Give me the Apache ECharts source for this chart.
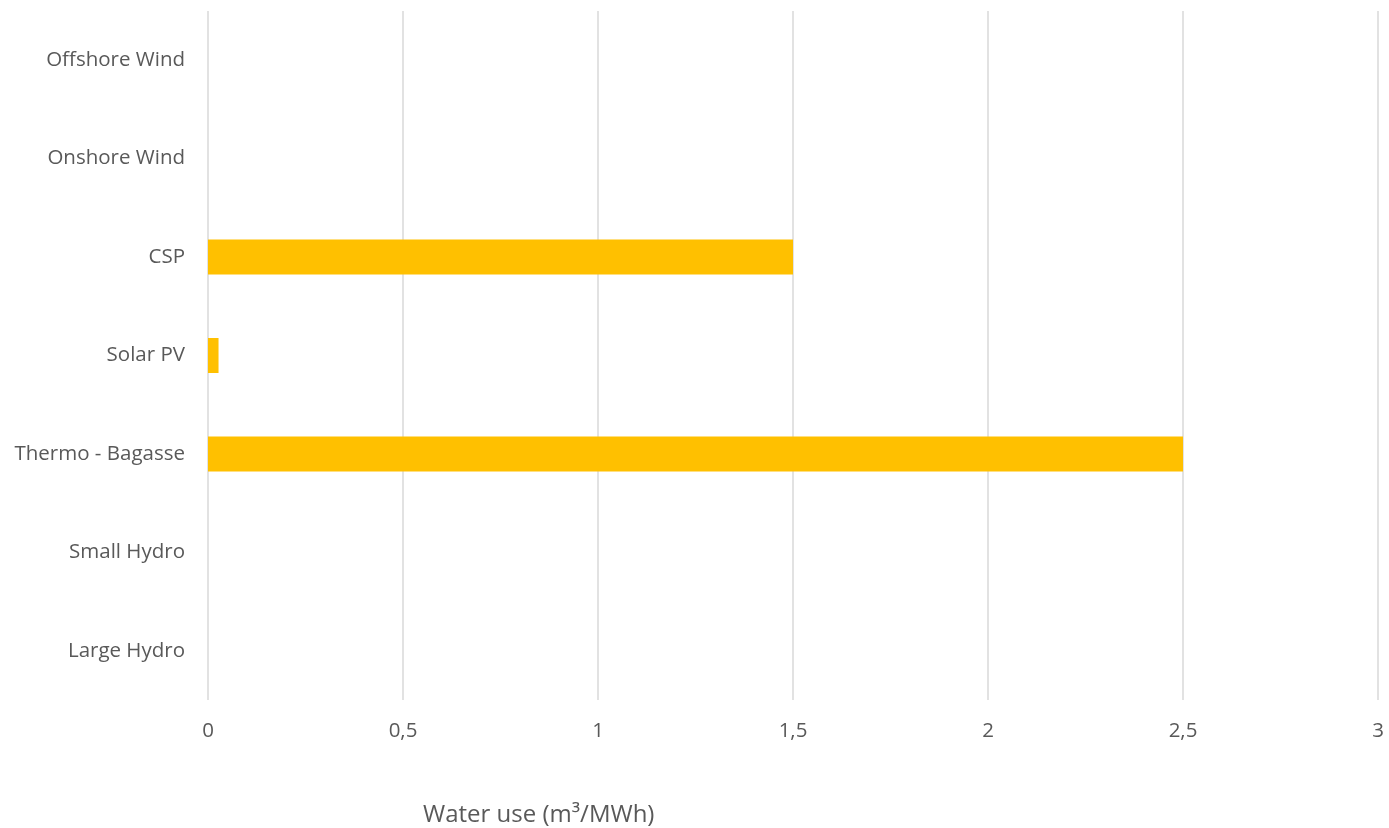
<!DOCTYPE html>
<html>
<head>
<meta charset="utf-8">
<script src="https://cdn.jsdelivr.net/npm/echarts@6/dist/echarts.min.js"></script>
<style>
html,body{margin:0;padding:0;background:#fff;}
#c{width:1389px;height:828px;}
</style>
</head>
<body>
<div id="c"></div>
<script>
const categories = ['Large Hydro', 'Small Hydro', 'Thermo - Bagasse', 'Solar PV', 'CSP', 'Onshore Wind', 'Offshore Wind'];
const waterUse = [0, 0, 2.5, 0.027, 1.5, 0, 0];
const xTickLabels = {0: '0', 0.5: '0,5', 1: '1', 1.5: '1,5', 2: '2', 2.5: '2,5', 3: '3'};
const axisTitle = 'Water use (m³/MWh)';

const chart = echarts.init(document.getElementById('c'), null, {renderer: 'canvas'});
chart.setOption({
  animation: false,
  backgroundColor: '#ffffff',
  grid: {left: 208, right: 11, top: 11, bottom: 128, containLabel: false},
  xAxis: {
    type: 'value', min: 0, max: 3, interval: 0.5,
    axisLine: {show: false}, axisTick: {show: false},
    splitLine: {show: true, lineStyle: {color: '#d9d9d9', width: 1.5}},
    axisLabel: {
      color: '#595959', fontFamily: 'Open Sans', fontSize: 20.5, margin: 21,
      formatter: v => xTickLabels[v] !== undefined ? xTickLabels[v] : String(v).replace('.', ',')
    }
  },
  yAxis: {
    type: 'category', data: categories,
    axisLine: {show: false}, axisTick: {show: false},
    splitLine: {show: false},
    axisLabel: {color: '#595959', fontFamily: 'Open Sans', fontSize: 20.5, margin: 23}
  },
  series: [{
    type: 'bar', data: waterUse, barWidth: 35,
    itemStyle: {color: '#ffc000'}
  }],
  graphic: [{
    type: 'text', left: 423, top: 803,
    style: {text: axisTitle, fill: '#595959', font: '24px "Open Sans"'}
  }]
});
</script>
</body>
</html>
